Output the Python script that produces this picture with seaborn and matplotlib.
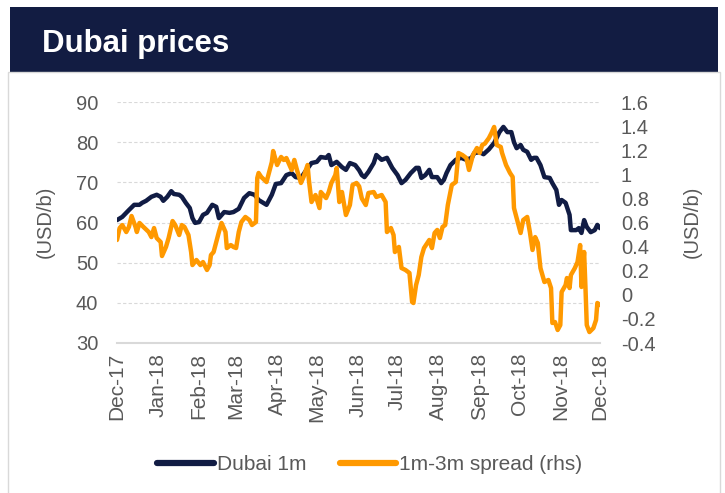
import pandas as pd
import numpy as np
import matplotlib.pyplot as plt
import matplotlib.dates as mdates
import seaborn as sns
from matplotlib.patches import Rectangle

# Dubai 1m (USD/b)
dubai_dates = ['2017-12-01', '2017-12-05', '2017-12-10', '2017-12-14', '2017-12-18', '2017-12-20',
               '2017-12-23', '2017-12-27', '2017-12-31', '2018-01-03', '2018-01-05', '2018-01-08',
               '2018-01-11', '2018-01-13', '2018-01-17', '2018-01-19', '2018-01-22', '2018-01-25',
               '2018-01-27', '2018-01-29', '2018-02-01', '2018-02-04', '2018-02-07', '2018-02-11',
               '2018-02-14', '2018-02-16', '2018-02-20', '2018-02-24', '2018-02-27', '2018-03-03',
               '2018-03-07', '2018-03-11', '2018-03-15', '2018-03-18', '2018-03-24', '2018-03-28',
               '2018-03-31', '2018-04-04', '2018-04-08', '2018-04-12', '2018-04-15', '2018-04-19',
               '2018-04-23', '2018-04-27', '2018-05-01', '2018-05-04', '2018-05-08', '2018-05-10',
               '2018-05-12', '2018-05-16', '2018-05-20', '2018-05-23', '2018-05-26', '2018-05-30',
               '2018-06-02', '2018-06-04', '2018-06-06', '2018-06-09', '2018-06-13', '2018-06-15',
               '2018-06-19', '2018-06-23', '2018-06-27', '2018-07-01', '2018-07-04', '2018-07-07',
               '2018-07-11', '2018-07-15', '2018-07-17', '2018-07-19', '2018-07-22', '2018-07-25',
               '2018-07-27', '2018-07-31', '2018-08-03', '2018-08-05', '2018-08-07', '2018-08-10',
               '2018-08-14', '2018-08-18', '2018-08-22', '2018-08-26', '2018-08-28', '2018-09-01',
               '2018-09-04', '2018-09-08', '2018-09-12', '2018-09-16', '2018-09-19', '2018-09-22',
               '2018-09-25', '2018-09-27', '2018-09-29', '2018-10-02', '2018-10-04', '2018-10-07',
               '2018-10-10', '2018-10-12', '2018-10-14', '2018-10-17', '2018-10-20', '2018-10-24',
               '2018-10-26', '2018-10-29', '2018-10-31', '2018-11-02', '2018-11-05', '2018-11-08',
               '2018-11-09', '2018-11-13', '2018-11-15', '2018-11-17', '2018-11-19', '2018-11-21',
               '2018-11-24', '2018-11-27', '2018-11-29', '2018-12-01']
dubai_1m = [60.6, 61.4, 63.1, 64.4, 64.4, 64.9, 65.4, 66.4, 66.9, 66.4, 65.4, 66.4,
            67.8, 67.1, 66.9, 66.4, 64.9, 63.6, 61.1, 59.9, 60.1, 61.9, 62.4, 64.4,
            63.9, 61.1, 62.6, 62.4, 62.6, 63.4, 66.1, 67.3, 66.9, 65.6, 64.4, 66.9,
            69.6, 69.8, 71.8, 72.3, 71.3, 71.1, 73.0, 74.8, 75.1, 76.3, 76.1, 76.8,
            74.3, 75.1, 73.8, 73.1, 74.8, 74.3, 73.0, 71.8, 71.3, 72.6, 74.8, 76.8,
            75.6, 76.1, 73.6, 71.8, 69.8, 70.6, 72.3, 73.6, 73.6, 71.1, 71.8, 73.1,
            71.3, 71.3, 69.8, 70.6, 72.3, 74.3, 75.6, 76.1, 75.6, 76.1, 77.3, 77.5,
            77.0, 78.2, 79.8, 82.5, 83.8, 82.5, 82.5, 80.0, 78.5, 79.3, 78.1, 77.6,
            75.6, 76.1, 76.1, 74.3, 71.3, 71.1, 69.8, 68.1, 64.4, 65.6, 64.9, 61.9,
            58.1, 58.1, 58.6, 57.4, 60.6, 58.9, 57.6, 58.1, 59.4, 58.6]

# 1m-3m spread (rhs)
spread_dates = ['2017-12-01', '2017-12-03', '2017-12-05', '2017-12-08', '2017-12-10', '2017-12-12',
                '2017-12-15', '2017-12-16', '2017-12-18', '2017-12-21', '2017-12-25', '2017-12-27',
                '2017-12-29', '2017-12-31', '2018-01-03', '2018-01-04', '2018-01-07', '2018-01-09',
                '2018-01-12', '2018-01-14', '2018-01-17', '2018-01-19', '2018-01-21', '2018-01-24',
                '2018-01-26', '2018-01-27', '2018-01-30', '2018-02-02', '2018-02-04', '2018-02-07',
                '2018-02-09', '2018-02-10', '2018-02-12', '2018-02-14', '2018-02-16', '2018-02-18',
                '2018-02-21', '2018-02-22', '2018-02-25', '2018-02-27', '2018-03-01', '2018-03-03',
                '2018-03-05', '2018-03-08', '2018-03-11', '2018-03-13', '2018-03-16', '2018-03-17',
                '2018-03-18', '2018-03-20', '2018-03-24', '2018-03-26', '2018-03-28', '2018-03-29',
                '2018-04-01', '2018-04-04', '2018-04-06', '2018-04-08', '2018-04-12', '2018-04-14',
                '2018-04-16', '2018-04-19', '2018-04-21', '2018-04-24', '2018-04-25', '2018-04-27',
                '2018-04-30', '2018-05-03', '2018-05-04', '2018-05-08', '2018-05-10', '2018-05-12',
                '2018-05-15', '2018-05-16', '2018-05-18', '2018-05-20', '2018-05-23', '2018-05-26',
                '2018-05-28', '2018-05-31', '2018-06-02', '2018-06-04', '2018-06-07', '2018-06-09',
                '2018-06-13', '2018-06-15', '2018-06-19', '2018-06-22', '2018-06-23', '2018-06-26',
                '2018-06-28', '2018-06-29', '2018-07-02', '2018-07-04', '2018-07-07', '2018-07-10',
                '2018-07-12', '2018-07-13', '2018-07-15', '2018-07-17', '2018-07-19', '2018-07-21',
                '2018-07-25', '2018-07-27', '2018-07-29', '2018-07-31', '2018-08-02', '2018-08-04',
                '2018-08-06', '2018-08-08', '2018-08-11', '2018-08-14', '2018-08-16', '2018-08-19',
                '2018-08-22', '2018-08-24', '2018-08-27', '2018-08-30', '2018-09-01', '2018-09-03',
                '2018-09-05', '2018-09-08', '2018-09-10', '2018-09-12', '2018-09-14', '2018-09-17',
                '2018-09-18', '2018-09-21', '2018-09-24', '2018-09-26', '2018-09-27', '2018-09-30',
                '2018-10-02', '2018-10-04', '2018-10-07', '2018-10-09', '2018-10-11', '2018-10-13',
                '2018-10-15', '2018-10-17', '2018-10-20', '2018-10-23', '2018-10-25', '2018-10-26',
                '2018-10-28', '2018-10-30', '2018-11-01', '2018-11-02', '2018-11-05', '2018-11-06',
                '2018-11-08', '2018-11-09', '2018-11-12', '2018-11-14', '2018-11-16', '2018-11-17',
                '2018-11-19', '2018-11-20', '2018-11-21', '2018-11-23', '2018-11-26', '2018-11-28',
                '2018-11-29', '2018-12-01']
spread_1m3m = [0.455, 0.554, 0.579, 0.521, 0.563, 0.654, 0.563, 0.521, 0.596, 0.563, 0.521, 0.479,
               0.554, 0.471, 0.438, 0.322, 0.397, 0.471, 0.612, 0.579, 0.496, 0.579, 0.563, 0.496,
               0.355, 0.247, 0.289, 0.247, 0.272, 0.206, 0.247, 0.330, 0.355, 0.438, 0.521, 0.596,
               0.521, 0.388, 0.413, 0.397, 0.388, 0.521, 0.604, 0.646, 0.621, 0.579, 0.604, 0.969,
               1.011, 0.978, 0.936, 1.019, 1.102, 1.193, 1.077, 1.144, 1.119, 1.135, 1.036, 1.119,
               1.036, 0.928, 0.978, 1.077, 0.953, 0.770, 0.828, 0.720, 0.853, 0.803, 0.853, 0.928,
               0.994, 1.052, 0.770, 0.853, 0.662, 0.745, 0.911, 0.928, 0.900, 0.800, 0.745, 0.845,
               0.853, 0.812, 0.828, 0.770, 0.521, 0.554, 0.496, 0.355, 0.397, 0.222, 0.206, 0.181,
               -0.060, -0.068, 0.081, 0.164, 0.314, 0.388, 0.455, 0.388, 0.513, 0.538, 0.471, 0.563,
               0.579, 0.745, 0.911, 0.936, 1.177, 1.160, 1.135, 1.036, 1.160, 1.218, 1.177, 1.243,
               1.255, 1.300, 1.343, 1.393, 1.243, 1.227, 1.177, 1.077, 1.011, 0.978, 0.720, 0.596,
               0.513, 0.621, 0.646, 0.521, 0.372, 0.479, 0.430, 0.222, 0.106, 0.123, 0.056, -0.234,
               -0.226, -0.292, -0.251, 0.023, 0.081, 0.139, 0.056, 0.164, 0.222, 0.272, 0.413, 0.065,
               0.355, 0.065, -0.251, -0.309, -0.276, -0.209, -0.068, -0.085]

left_ticks = [30, 40, 50, 60, 70, 80, 90]
right_ticks = [-0.4, -0.2, 0, 0.2, 0.4, 0.6, 0.8, 1, 1.2, 1.4, 1.6]

navy = '#111c44'
orange = '#ff9900'
grey_txt = '#595959'

dubai = pd.DataFrame({'date': pd.to_datetime(dubai_dates), 'value': dubai_1m})
spread = pd.DataFrame({'date': pd.to_datetime(spread_dates), 'value': spread_1m3m})

sns.set_style('white')
plt.rcParams['font.family'] = ['Liberation Sans', 'DejaVu Sans']

fig = plt.figure(figsize=(7.25, 4.93), dpi=100)

# title banner and the light frame under it
fig.patches.append(Rectangle((10 / 725, 1 - 72 / 493), 708 / 725, 65 / 493,
                             transform=fig.transFigure, facecolor='#121c42', edgecolor='none'))
fig.patches.append(Rectangle((8 / 725, -0.01), 712 / 725, 1 - 72 / 493 + 0.01,
                             transform=fig.transFigure, facecolor='none', edgecolor='#d9d9d9', lw=1))
fig.text(42 / 725, 1 - 52 / 493, 'Dubai prices', color='white', fontsize=22.5,
         fontweight='bold', va='baseline', ha='left')

ax = fig.add_axes([117 / 725, 1 - 343 / 493, 483 / 725, 241 / 493])
ax2 = ax.twinx()

sns.lineplot(data=dubai, x='date', y='value', ax=ax, color=navy, lw=3.2, label='Dubai 1m', legend=False)
sns.lineplot(data=spread, x='date', y='value', ax=ax2, color=orange, lw=3.2,
             label='1m-3m spread (rhs)', legend=False)

ax.set_xlim(pd.Timestamp('2017-12-01'), pd.Timestamp('2018-12-01'))
ax.set_ylim(30, 90)
ax.set_yticks(left_ticks)
ax2.set_ylim(-0.4, 1.6)
ax2.set_yticks(right_ticks)
ax2.set_yticklabels([f'{t:g}' for t in right_ticks])

ax.xaxis.set_major_locator(mdates.MonthLocator())
ax.xaxis.set_major_formatter(mdates.DateFormatter('%b-%y'))

for a in (ax, ax2):
    for s in a.spines.values():
        s.set_visible(False)
ax.spines['bottom'].set_visible(True)
ax.spines['bottom'].set_color('#d9d9d9')
ax.spines['bottom'].set_linewidth(1.5)

ax.yaxis.grid(True, color='#d9d9d9', linestyle=(0, (3, 2)), lw=0.8)
ax.set_axisbelow(True)
ax.tick_params(axis='x', direction='out', length=5, width=1.2, color='#d9d9d9',
               labelsize=15, labelcolor=grey_txt, rotation=90, pad=2)
ax.tick_params(axis='y', length=0, labelsize=14.5, labelcolor=grey_txt, pad=13.5)
ax2.tick_params(axis='y', length=0, labelsize=14.5, labelcolor=grey_txt, pad=15)

ax.set_xlabel('')
ax.set_ylabel('')
ax2.set_ylabel('')
fig.text(45 / 725, 1 - 222 / 493, '(USD/b)', rotation=90, fontsize=14.5, color=grey_txt,
         ha='center', va='center')
fig.text(692 / 725, 1 - 222 / 493, '(USD/b)', rotation=90, fontsize=14.5, color=grey_txt,
         ha='center', va='center')

h1, l1 = ax.get_legend_handles_labels()
h2, l2 = ax2.get_legend_handles_labels()
leg = fig.legend(h1 + h2, l1 + l2, loc='center', bbox_to_anchor=(0.51, 1 - 465 / 493), ncol=2,
                 frameon=False, fontsize=15, handlelength=2.7, handletextpad=0.15, columnspacing=1.6)
for t in leg.get_texts():
    t.set_color(grey_txt)
for ln in leg.get_lines():
    ln.set_linewidth(4.5)
    ln.set_solid_capstyle('round')

fig.savefig('out.png', dpi=100)
